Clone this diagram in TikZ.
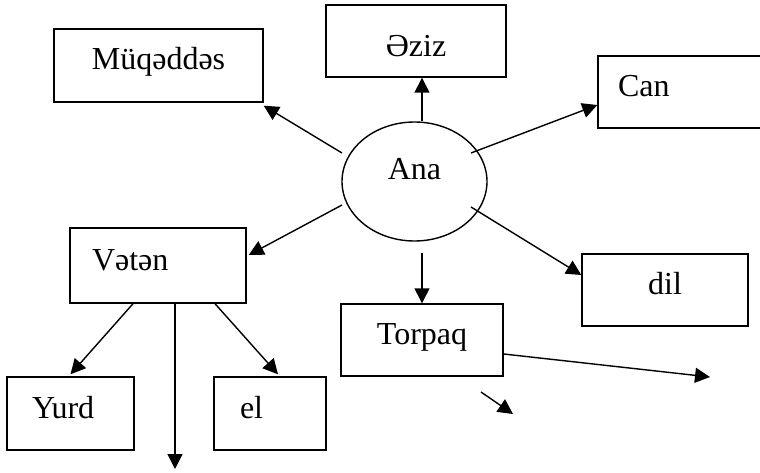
\documentclass[tikz,border=0pt]{standalone}
\usepackage{fontspec}
\setmainfont{Liberation Serif}
\usetikzlibrary{shapes.geometric,arrows.meta,calc}
\begin{document}
\begin{tikzpicture}[x=1pt,y=-1pt,line width=1.4pt]
\tikzstyle{word}=[draw,rectangle,inner sep=0pt,minimum height=73pt,font=\fontsize{32pt}{36pt}\selectfont,text height=21pt,text depth=12pt];
\tikzstyle{main}=[draw,ellipse,inner sep=0pt,minimum width=145pt,minimum height=119pt,font=\fontsize{32pt}{36pt}\selectfont,text height=21pt,text depth=24pt];
\tikzstyle{link}=[-{Triangle[length=15pt,width=15pt]}];
\useasboundingbox (0,0) rectangle (760,473);

\node [main] (ana) at (414.5,181.5) {Ana};

\node [word,minimum width=209pt] (muq) at (158.5,65.5) {Müqəddəs};
\node [word,minimum width=180pt,minimum height=72pt,text height=40pt,text depth=8pt] (aziz) at (416,41) {Əziz};
\node [word,minimum width=200pt,minimum height=72pt,inner xsep=20pt,text width=160pt,align=left] (can) at (698,92) {Can};
\node [word,minimum width=176pt,minimum height=75pt,inner xsep=22pt,text width=132pt,align=left] (veten) at (158,265.5) {Vətən};
\node [word,minimum width=166pt,minimum height=72pt] (dil) at (665,290) {dil};
\node [word,minimum width=162pt,minimum height=72pt] (torpaq) at (422,340) {Torpaq};
\node [word,minimum width=127pt,inner xsep=25pt,text width=77pt,align=left] (yurd) at (70.5,413.5) {Yurd};
\node [word,minimum width=112pt,inner xsep=26pt,text width=60pt,align=left] (el) at (270,413.5) {el};

\coordinate (down) at (175,469);
\coordinate (far) at (710,377);
\coordinate (s1) at (481,392);
\coordinate (s2) at (513,414);

% from Ana
\draw [link] ([xshift=7.5pt]ana.north) -- ([xshift=6pt]aziz.south);
\draw [link] ($(ana)+(56.5,-28.5)$) -- ([yshift=-13pt]can.west);
\draw [link] ($(ana)+(-72.5,-28.5)$) -- ([yshift=-3pt]muq.south east);
\draw [link] ($(ana)+(-72.5,23.5)$) -- ([xshift=2pt,yshift=10.5pt]veten.east);
\draw [link] ($(ana)+(56.5,25.5)$) -- ([yshift=15pt]dil.west);
\draw [link] ($(ana)+(7.5,71.5)$) -- (torpaq.north);

% from Vatan
\draw [link] ([xshift=-25pt]veten.south) -- ([yshift=2pt]yurd.north);
\draw [link] ([xshift=17pt]veten.south) -- (down);
\draw [link] ([xshift=57pt]veten.south) -- ([xshift=8pt,yshift=2pt]el.north);

\draw [link] ([yshift=-14pt]torpaq.east) -- (far);
\draw [link] (s1) -- (s2);
\end{tikzpicture}
\end{document}
